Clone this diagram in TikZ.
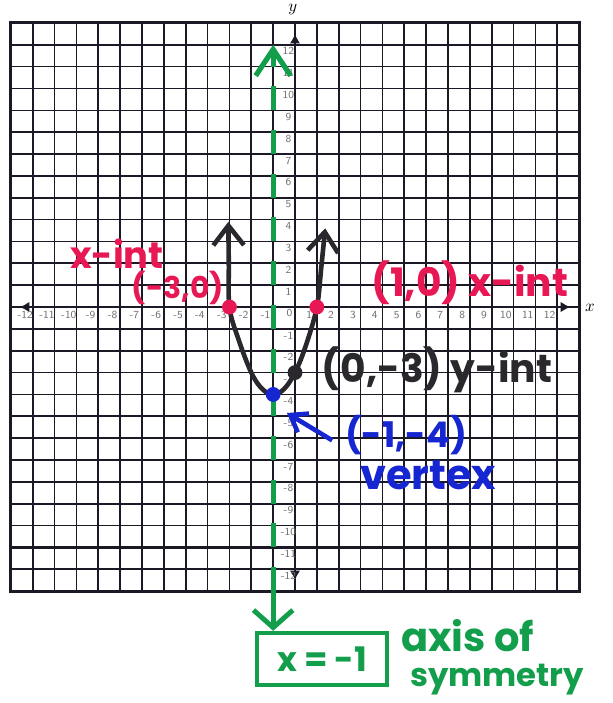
\documentclass[tikz,border=0pt]{standalone}
\usepackage{fontspec}
\newfontfamily\handfont{Poppins}
\usepackage{xcolor}
\usepackage{tikz}
\usetikzlibrary{arrows.meta, positioning}

\definecolor{penred}{RGB}{232,24,84}
\definecolor{pengreen}{RGB}{18,158,74}
\definecolor{penblue}{RGB}{22,38,208}
\definecolor{penblack}{RGB}{42,40,44}
\definecolor{gridink}{RGB}{28,24,38}

\begin{document}
\begin{tikzpicture}[
    x=0.5cm, y=0.5cm,
    >={Latex[length=2.2mm, width=2.4mm]},
    % Graph paper lines
    gridline/.style={draw=gridink, line width=1.1pt},
    heavyline/.style={draw=gridink, line width=2pt},
    % Printed axes
    axisline/.style={draw=gridink, line width=1.1pt},
    % Printed tick numbers
    tick/.style={font=\sffamily\fontsize{7}{7}\selectfont, text=black!55, inner sep=0pt},
    % Marker pen writing
    hand/.style={font=\handfont\bfseries\fontsize{#1}{#1}\selectfont, inner sep=0pt},
    % Plotted points
    dot/.style={circle, inner sep=0pt, minimum size=0.34cm},
]

% Page
\fill[white] (-13.5,-18.12) rectangle (14.51,14.05);
\useasboundingbox (-13.5,-18.12) rectangle (14.51,14.05);

% ===== Graph paper =====
\draw[gridline, step=0.5cm] (-13,-13) grid (13,13);
\draw[heavyline] (-13,-13) rectangle (13,13);
\draw[heavyline] (-13,-11) -- (13,-11);

% Axes
\draw[axisline, <->] (-12.6,0) -- (12.6,0);
\draw[axisline, <->] (0,-12.5) -- (0,12.5);
\node[font=\itshape\fontsize{11}{11}\selectfont] (xname) at (13.5,-0.05) {$x$};
\node[font=\itshape\fontsize{11}{11}\selectfont] (yname) at (-0.1,13.6) {$y$};

% Tick numbers
\foreach \i in {-12,...,-1,1,2,...,12} {
    \node[tick] (tx\i) at (\i-0.35,-0.38) {\i};
    \node[tick] (ty\i) at (-0.3,\i-0.3) {\i};
}
\node[tick] (t0) at (-0.25,-0.25) {0};

% ===== Axis of symmetry =====
\coordinate (symtop) at (-1,12);
\coordinate (symbot) at (-1,-13);
\node[draw=pengreen, line width=2.6pt, minimum width=2.98cm, minimum height=1.19cm,
    hand=22, text=pengreen] (eqbox) at (1.24,-16.1) {x = -1};

\draw[pengreen, line width=3.4pt, dash pattern=on 0.55cm off 0.45cm,
    -{Straight Barb[length=6mm, width=8mm]}] (symbot) -- (symtop);
\draw[pengreen, line width=3.2pt, -{Straight Barb[length=4mm, width=9mm]}]
    (symbot) -- (symbot |- eqbox.north);

\node[hand=26, text=pengreen] (symlabA) at (7.9,-15.05) {axis of};
\node[hand=21, text=pengreen] (symlabB) at (9.25,-17.05) {symmetry};

% ===== Parabola =====
\draw[penblack, line width=3pt, {Straight Barb[length=4.5mm, width=7mm]}-{Straight Barb[length=4.5mm, width=7mm]}]
    plot[smooth, tension=0.6] coordinates {(-3.05,3.9) (-3.03,2.0) (-3,0) (-2.6,-1.44) (-2,-3)
        (-1.5,-3.75) (-1,-4) (-0.5,-3.75) (0,-3) (0.5,-1.75) (1,0) (1.2,1.8) (1.38,3.6)};

% Points
\node[dot, fill=penred] (xintL) at (-3,0) {};
\node[dot, fill=penred] (xintR) at (1,0) {};
\node[dot, fill=penblack] (yint) at (0,-3) {};
\node[dot, fill=penblue] (vert) at (-1,-4) {};

% ===== Labels =====
\node[hand=24, text=penred] (xintLname) at (-8.15,2.45) {x-int};
\node[hand=19.5, text=penred] (xintLval) at (-5.35,0.86) {(-3,0)};
\node[hand=25.5, text=penred] (xintRlab) at (8.0,1.1) {(1,0) x-int};
\node[hand=25.5, text=penblack] (yintlab) at (6.5,-2.88) {(0,-3) y-int};
\node[hand=23, text=penblue] (vertval) at (5.08,-5.86) {(-1,-4)};
\node[hand=27, text=penblue] (vertname) at (6.1,-7.7) {vertex};

% Vertex pointer
\coordinate (vtail) at (1.7,-6.1);
\coordinate (vtip) at (-0.37,-4.85);
\draw[penblue, line width=3pt, -{Straight Barb[length=3.5mm, width=5mm]}] (vtail) -- (vtip);

\end{tikzpicture}
\end{document}
